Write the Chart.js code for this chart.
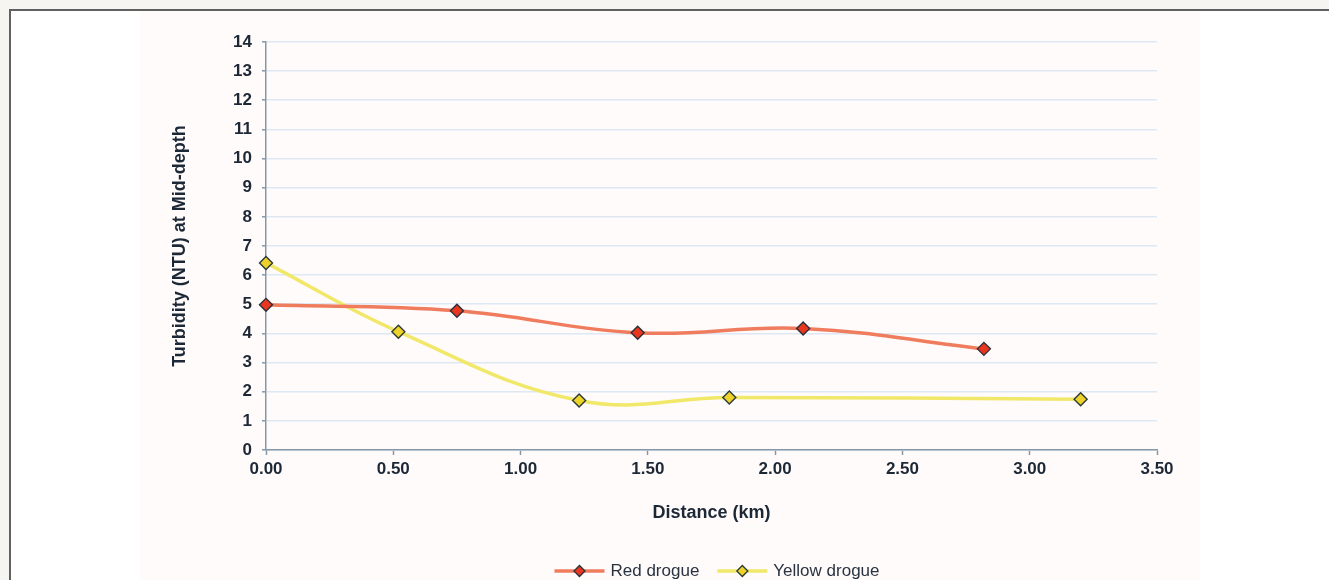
<!DOCTYPE html>
<html>
<head>
<meta charset="utf-8">
<script src="https://cdn.jsdelivr.net/npm/chart.js@4.4.1/dist/chart.umd.min.js"></script>
<style>
  html, body { margin: 0; padding: 0; }
  body { width: 1329px; height: 580px; background: #f6f5f2; position: relative; overflow: hidden; }
  #frame { position: absolute; left: 9px; top: 9px; right: 0; bottom: 0; background: #ffffff;
           border-left: 2px solid #606060; border-top: 2px solid #606060; }
  #panel { position: absolute; left: 140px; top: 11px; width: 1060px; bottom: 0; background: #fffbfb; }
  #wrap { position: absolute; left: 0; top: 0; width: 1329px; height: 580px; }
</style>
</head>
<body>
<div id="frame"></div>
<div id="panel"></div>
<div id="wrap"><canvas id="c" width="1329" height="580"></canvas></div>
<script>
// ---- data ----
const seriesNames = ["Red drogue", "Yellow drogue"];
const distRed = [0.00, 0.75, 1.46, 2.11, 2.82];
const turbRed = [4.98, 4.78, 4.02, 4.17, 3.47];
const distYellow = [0.00, 0.52, 1.23, 1.82, 3.20];
const turbYellow = [6.42, 4.06, 1.70, 1.80, 1.74];
const xTitle = "Distance (km)";
const yTitle = "Turbidity (NTU) at Mid-depth";

const toPts = (xs, ys) => xs.map((x, i) => ({ x: x, y: ys[i] }));

const FONT = "'Liberation Sans', Arial, Helvetica, sans-serif";
const TXT = "#1d2836";
const AXIS = "#8598a8";

const legendPlugin = {
  id: 'customLegend',
  afterDraw(chart) {
    const ctx = chart.ctx;
    const ds = chart.data.datasets;
    ctx.save();
    ctx.font = "17px " + FONT;
    const lineLen = 50, gap = 6, itemGap = 18;
    const widths = ds.map(d => lineLen + gap + ctx.measureText(d.label).width);
    const total = widths.reduce((a, b) => a + b, 0) + itemGap * (ds.length - 1);
    let x = 717 - total / 2;
    const y = 571;
    ds.forEach((d, i) => {
      ctx.strokeStyle = d.borderColor;
      ctx.lineWidth = 3.5;
      ctx.beginPath(); ctx.moveTo(x, y); ctx.lineTo(x + lineLen, y); ctx.stroke();
      const cx = x + lineLen / 2, r = 5.5;
      ctx.beginPath();
      ctx.moveTo(cx, y - r); ctx.lineTo(cx + r, y); ctx.lineTo(cx, y + r); ctx.lineTo(cx - r, y); ctx.closePath();
      ctx.fillStyle = d.pointBackgroundColor; ctx.fill();
      ctx.strokeStyle = d.pointBorderColor; ctx.lineWidth = 1.3; ctx.stroke();
      ctx.fillStyle = "#2a3340";
      ctx.textBaseline = "middle";
      ctx.textAlign = "left";
      ctx.fillText(d.label, x + lineLen + gap, y);
      x += widths[i] + itemGap;
    });
    ctx.restore();
  }
};

new Chart(document.getElementById('c'), {
  type: 'scatter',
  data: {
    datasets: [
      {
        label: seriesNames[0],
        data: toPts(distRed, turbRed),
        showLine: true,
        clip: false,
        tension: 0.4,
        borderColor: '#f07c5e',
        borderWidth: 3.5,
        pointStyle: 'rectRot',
        pointRadius: 6.5,
        pointHoverRadius: 6.5,
        pointBackgroundColor: '#e8361f',
        pointBorderColor: '#2c3038',
        pointBorderWidth: 1.4
      },
      {
        label: seriesNames[1],
        data: toPts(distYellow, turbYellow),
        showLine: true,
        clip: false,
        tension: 0.4,
        borderColor: '#f1e86a',
        borderWidth: 3.5,
        pointStyle: 'rectRot',
        pointRadius: 6.5,
        pointHoverRadius: 6.5,
        pointBackgroundColor: '#ecd22a',
        pointBorderColor: '#2c3a38',
        pointBorderWidth: 1.4
      }
    ]
  },
  options: {
    responsive: false,
    animation: false,
    devicePixelRatio: 1,
    layout: { padding: { left: 150, right: 172, top: 42, bottom: 40 } },
    plugins: { legend: { display: false }, tooltip: { enabled: false } },
    scales: {
      x: {
        type: 'linear',
        min: 0, max: 3.5,
        afterFit(s) { s.height = 90; },
        ticks: {
          stepSize: 0.5,
          padding: 4,
          color: TXT,
          font: { family: FONT, size: 17, weight: 'bold' },
          callback: v => Number(v).toFixed(2),
          maxRotation: 0
        },
        grid: { drawOnChartArea: false, drawTicks: true, tickLength: 5, tickColor: AXIS, tickWidth: 1.5 },
        border: { color: AXIS, width: 1.5 },
        title: {
          display: true, text: xTitle, color: TXT,
          font: { family: FONT, size: 18, weight: 'bold' },
          padding: { top: 0, bottom: 16 }
        }
      },
      y: {
        type: 'linear',
        min: 0, max: 14,
        afterFit(s) { s.width = 116; },
        ticks: {
          stepSize: 1,
          padding: 10,
          color: TXT,
          font: { family: FONT, size: 17, weight: 'bold' }
        },
        grid: { color: '#dde8f3', lineWidth: 1.6, drawTicks: true, tickLength: 4, tickColor: AXIS, tickWidth: 1.5 },
        border: { color: AXIS, width: 1.5 },
        title: {
          display: true, text: yTitle, color: TXT,
          font: { family: FONT, size: 18, weight: 'bold' },
          padding: { top: 19, bottom: 0 }
        }
      }
    }
  },
  plugins: [legendPlugin]
});
</script>
</body>
</html>
